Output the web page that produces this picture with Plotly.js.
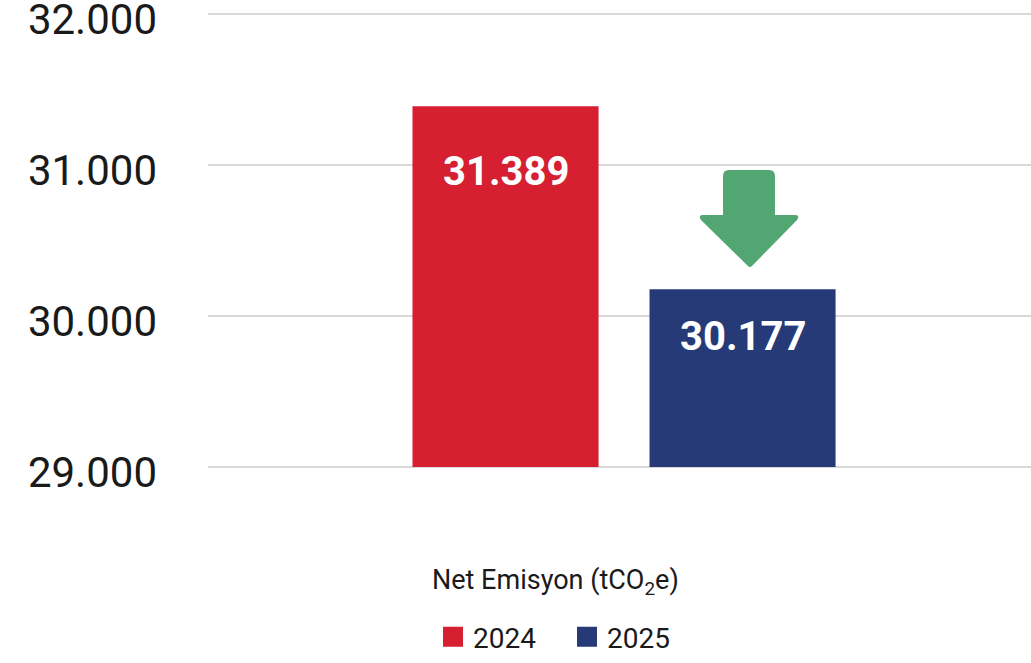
<!DOCTYPE html>
<html>
<head>
<meta charset="utf-8">
<script src="https://cdn.plot.ly/plotly-3.0.1.min.js"></script>
<style>html,body{margin:0;padding:0;background:#fff;}#chart{width:1031px;height:663px;}</style>
</head>
<body>
<div id="chart"></div>
<script>
const categories = ["Net Emisyon (tCO₂e)"];
const years = ["2024", "2025"];
const values2024 = [31389];
const values2025 = [30177];
const barLabels = ["31.389", "30.177"];
const yTickVals = [29000, 30000, 31000, 32000];
const yTickText = ["29.000", "30.000", "31.000", "32.000"];

const colors = ["#D61F31", "#273A78"];
const FONT = "Roboto, 'Noto Sans', sans-serif";
const BASE = 29000;          // axis starts at 29.000, bars start there
const PAD = 20;              // small range padding so edge gridlines are drawn

const traces = [
  {type: "bar", name: years[0], x: categories, base: BASE, y: values2024.map(v => v - BASE),
   marker: {color: colors[0]}, hoverinfo: "skip", showlegend: false},
  {type: "bar", name: years[1], x: categories, base: BASE, y: values2025.map(v => v - BASE),
   marker: {color: colors[1]}, hoverinfo: "skip", showlegend: false},
  // legend proxies (larger square swatches)
  {type: "scatter", mode: "markers", name: years[0], x: [null], y: [null],
   marker: {symbol: "square", size: 16, color: colors[0], line: {color: colors[0], width: 4}}},
  {type: "scatter", mode: "markers", name: years[1], x: [null], y: [null],
   marker: {symbol: "square", size: 16, color: colors[1], line: {color: colors[1], width: 4}}}
];

// plot area in pixels
const L = 208, R = 1031, T = 11, B = 470;
function px(x, y) { return ((x - L) / (R - L)).toFixed(4) + "," + ((B - y) / (B - T)).toFixed(4); }
const arrowPath = "M" + px(723, 176) + " Q" + px(723, 170) + " " + px(729, 170) +
  " L" + px(769, 170) + " Q" + px(775, 170) + " " + px(775, 176) +
  " L" + px(775, 215) + " L" + px(796, 215) + " Q" + px(800, 216) + " " + px(797, 220) +
  " L" + px(752, 266) + " Q" + px(750, 268) + " " + px(748, 266) +
  " L" + px(701, 220) + " Q" + px(698, 216) + " " + px(702, 215) +
  " L" + px(723, 215) + " Z";

const layout = {
  width: 1031, height: 663,
  margin: {l: L, r: 1031 - R, t: T, b: 663 - B},
  paper_bgcolor: "#fff", plot_bgcolor: "#fff",
  font: {family: FONT, color: "#1a1a1a"},
  barmode: "group",
  bargap: 0.424,
  bargroupgap: 0.215,
  showlegend: true,
  legend: {orientation: "h", x: 0.2734, xanchor: "left", y: (B - 637) / (B - T), yanchor: "middle",
           entrywidth: 89, entrywidthmode: "pixels",
           font: {size: 28, family: FONT, color: "#1a1a1a"}, itemclick: false, traceorder: "normal"},
  xaxis: {type: "category", range: [-0.5055, 0.4945], showticklabels: false, showgrid: false, zeroline: false, showline: false, fixedrange: true},
  yaxis: {range: [yTickVals[0] - PAD, yTickVals[yTickVals.length - 1] + PAD], tickvals: yTickVals, ticktext: yTickText,
          showgrid: true, gridcolor: "#D9D9D9", gridwidth: 2.5, ticklabeloverflow: "allow", ticklabelshift: 5,
          zeroline: false, showline: false, ticks: "", ticklabelstandoff: 50, tickfont: {size: 42, family: FONT, color: "#1a1a1a"}, fixedrange: true},
  annotations: [
    {xref: "x", yref: "y", x: 0, y: values2024[0], xshift: -118.5, yshift: -40, yanchor: "top", showarrow: false,
     text: "<b>" + barLabels[0] + "</b>", font: {size: 40, color: "#fff", family: FONT}},
    {xref: "x", yref: "y", x: 0, y: values2025[0], xshift: 118.5, yshift: -22, yanchor: "top", showarrow: false,
     text: "<b>" + barLabels[1] + "</b>", font: {size: 40, color: "#fff", family: FONT}},
    {xref: "paper", yref: "paper", x: (555 - L) / (R - L), y: (B - 582) / (B - T), xanchor: "center", yanchor: "middle", showarrow: false,
     text: "Net Emisyon (tCO<sub>2</sub>e)", font: {size: 27, color: "#1a1a1a", family: FONT}}
  ],
  shapes: [
    {type: "path", xref: "paper", yref: "paper", path: arrowPath, fillcolor: "#52A672", line: {width: 0}, layer: "above"}
  ]
};

Plotly.newPlot("chart", traces, layout, {displayModeBar: false, staticPlot: true});
</script>
</body>
</html>
